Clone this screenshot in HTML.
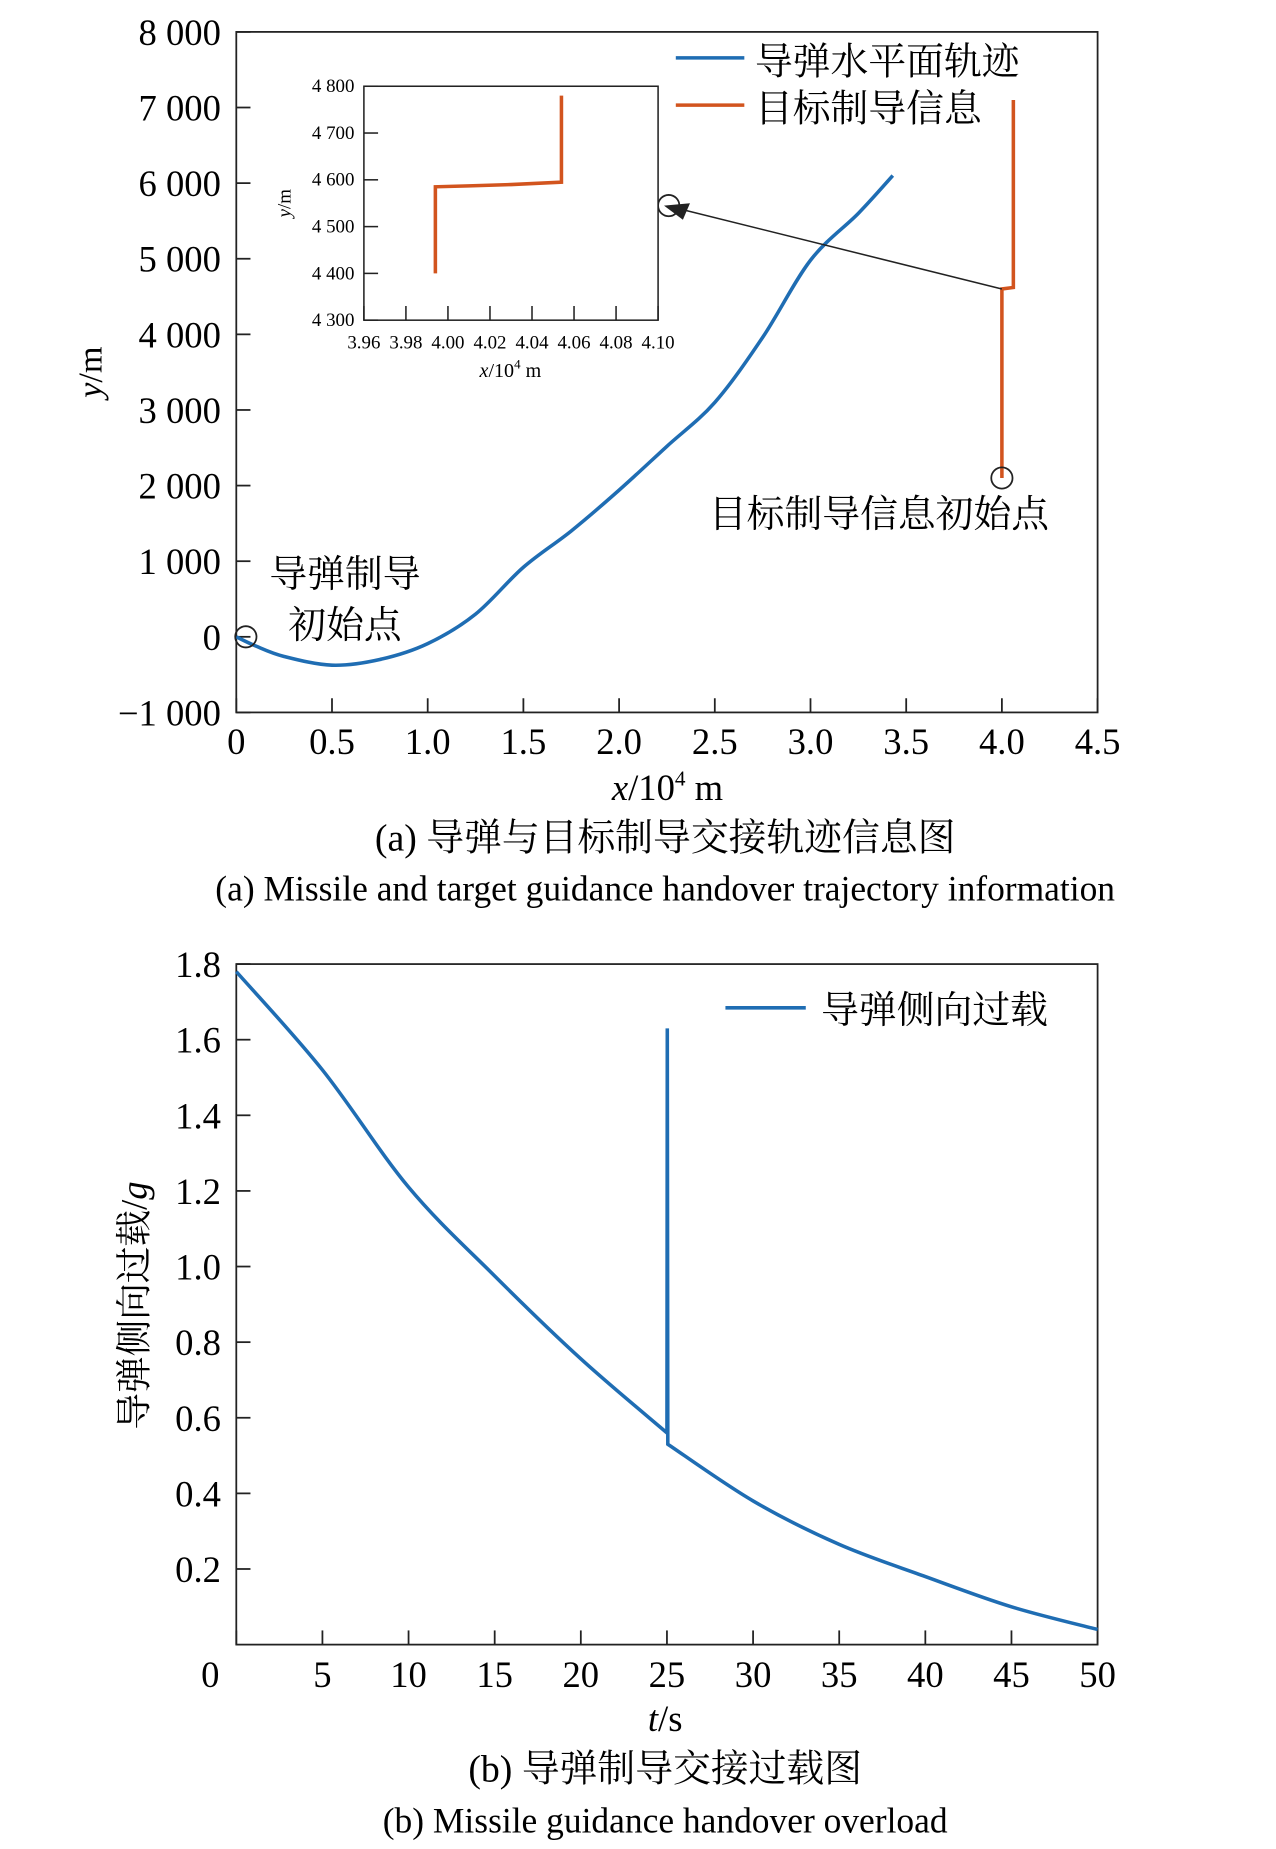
<!DOCTYPE html>
<html><head><meta charset="utf-8"><style>
html,body{margin:0;padding:0;background:#fff;}
svg{display:block;font-family:"Liberation Serif","Noto Serif CJK SC",serif;}
</style></head><body>
<svg id="c" width="1276" height="1849" viewBox="0 0 1080 1565" preserveAspectRatio="none" xmlns="http://www.w3.org/2000/svg">
<g id="top"></g>
<g id="inset"></g>
<g id="bot"></g>
<text x="563" y="720" text-anchor="middle" font-size="32">(a) 导弹与目标制导交接轨迹信息图</text>
<text x="563" y="762" text-anchor="middle" font-size="30">(a) Missile and target guidance handover trajectory information</text>
<text x="563" y="1508" text-anchor="middle" font-size="32">(b) 导弹制导交接过载图</text>
<text x="563" y="1551" text-anchor="middle" font-size="30">(b) Missile guidance handover overload</text>
</svg>
<script>
const trajX=[0,0.1,0.25,0.5,0.75,1.0,1.25,1.5,1.75,2.0,2.25,2.5,2.75,3.0,3.25,3.43];
const trajY=[0,-120,-260,-375,-300,-90,300,920,1400,1940,2520,3100,3960,4980,5600,6100];
const tgtX=[4.0,4.0,4.06,4.06];
const tgtY=[2100,4600,4620,7100];
const insX=[3.994,3.994,4.01,4.03,4.054,4.054];
const insY=[4400,4585,4587,4590,4595,4780];
const tVals=[0,5,10,15,20,25,25.02,25.05,30,35,40,45,50];
const nVals=[1.78,1.52,1.21,0.975,0.756,0.56,1.63,0.53,0.38,0.265,0.18,0.10,0.04];
const topXTicks=["0","0.5","1.0","1.5","2.0","2.5","3.0","3.5","4.0","4.5"];
const topYTicks=["−1 000","0","1 000","2 000","3 000","4 000","5 000","6 000","7 000","8 000"];
const insXTicks=["3.96","3.98","4.00","4.02","4.04","4.06","4.08","4.10"];
const insYTicks=["4 300","4 400","4 500","4 600","4 700","4 800"];
const botXTicks=["0","5","10","15","20","25","30","35","40","45","50"];
const botYTicks=["0","0.2","0.4","0.6","0.8","1.0","1.2","1.4","1.6","1.8"];
const NS="http://www.w3.org/2000/svg";
function mk(p,t,a,txt){const e=document.createElementNS(NS,t);for(const k in a)e.setAttribute(k,a[k]);if(txt!==undefined)e.textContent=txt;p.appendChild(e);return e;}
function lin(d0,d1,r0,r1){return v=>r0+(v-d0)/(d1-d0)*(r1-r0);}
function path(xs,ys,sx,sy){return xs.map((x,i)=>(i?'L':'M')+sx(x).toFixed(1)+' '+sy(ys[i]).toFixed(1)).join(' ');}
function smooth(xs,ys,sx,sy){let d='M'+sx(xs[0])+' '+sy(ys[0]);const P=xs.map((x,i)=>[sx(x),sy(ys[i])]);for(let i=0;i<P.length-1;i++){const p0=P[i-1]||P[i],p1=P[i],p2=P[i+1],p3=P[i+2]||p2;d+=` C${p1[0]+(p2[0]-p0[0])/6} ${p1[1]+(p2[1]-p0[1])/6} ${p2[0]-(p3[0]-p1[0])/6} ${p2[1]-(p3[1]-p1[1])/6} ${p2[0]} ${p2[1]}`;}return d;}
// top
const T=document.getElementById('top');
const tx=lin(0,4.5,200,929), ty=lin(-1000,8000,603,27);
let e=mk(T,'rect',{x:200,y:27,width:729,height:576,fill:'none',stroke:'#222','stroke-width':1.5});

topXTicks.forEach((l,i)=>{const x=tx(i*0.5);mk(T,'line',{x1:x,x2:x,y1:603,y2:591,stroke:'#222','stroke-width':1.5});
 e=mk(T,'text',{x:x,y:638,'text-anchor':'middle','font-size':31},l);});
topYTicks.forEach((l,i)=>{const y=ty(-1000+i*1000);mk(T,'line',{x1:200,x2:212,y1:y,y2:y,stroke:'#222','stroke-width':1.5});
 e=mk(T,'text',{x:187,y:y+11,'text-anchor':'end','font-size':31},l);});
e=mk(T,'text',{x:565,y:677,'text-anchor':'middle','font-size':31},'');e.innerHTML='<tspan font-style="italic">x</tspan>/10<tspan font-size="18" dy="-12">4</tspan><tspan dy="12"> m</tspan>';

e=mk(T,'text',{x:0,y:0,'text-anchor':'middle','font-size':29,transform:'translate(86,315) rotate(-90)'},'');e.innerHTML='<tspan font-style="italic">y</tspan>/m';

e=mk(T,'path',{d:smooth(trajX,trajY,tx,ty),fill:'none',stroke:'#1f6db3','stroke-width':3});

e=mk(T,'path',{d:path(tgtX,tgtY,tx,ty),fill:'none',stroke:'#d2541e','stroke-width':3});

e=mk(T,'circle',{cx:tx(tgtX[0]),cy:ty(tgtY[0]),r:9,fill:'none',stroke:'#222','stroke-width':1.5});
e=mk(T,'circle',{cx:tx(0.05),cy:ty(0),r:9,fill:'none',stroke:'#222','stroke-width':1.5});
e=mk(T,'circle',{cx:566,cy:174,r:9,fill:'none',stroke:'#222','stroke-width':1.5});
mk(T,'line',{x1:tx(4.0),y1:ty(4600),x2:576,y2:177,stroke:'#222','stroke-width':1.3});
mk(T,'polygon',{points:'562,174 584,172 578,186',fill:'#222'});
mk(T,'line',{x1:572,x2:630,y1:49,y2:49,stroke:'#1f6db3','stroke-width':3});
e=mk(T,'text',{x:639,y:63,'font-size':32},'导弹水平面轨迹');
mk(T,'line',{x1:572,x2:630,y1:89,y2:89,stroke:'#d2541e','stroke-width':3});
e=mk(T,'text',{x:639,y:103,'font-size':32},'目标制导信息');
e=mk(T,'text',{x:600,y:446,'font-size':32},'目标制导信息初始点');
e=mk(T,'text',{x:292,y:497,'text-anchor':'middle','font-size':32},'导弹制导');
mk(T,'text',{x:292,y:540,'text-anchor':'middle','font-size':32},'初始点');
// inset
const I=document.getElementById('inset');
const ix=lin(3.96,4.10,308,557), iy=lin(4300,4800,271,73);
mk(I,'rect',{x:308,y:73,width:249,height:198,fill:'#fff',stroke:'#222','stroke-width':1.3});
insXTicks.forEach((l,i)=>{const x=ix(3.96+i*0.02);mk(I,'line',{x1:x,x2:x,y1:271,y2:259,stroke:'#222','stroke-width':1.3});
 e=mk(I,'text',{x:x,y:295,'text-anchor':'middle','font-size':16},l);});
insYTicks.forEach((l,i)=>{const y=iy(4300+i*100);mk(I,'line',{x1:308,x2:320,y1:y,y2:y,stroke:'#222','stroke-width':1.3});
 e=mk(I,'text',{x:300,y:y+5,'text-anchor':'end','font-size':16},l);});
e=mk(I,'text',{x:432,y:319,'text-anchor':'middle','font-size':17},'');e.innerHTML='<tspan font-style="italic">x</tspan>/10<tspan font-size="11" dy="-7">4</tspan><tspan dy="7"> m</tspan>';

e=mk(I,'text',{x:0,y:0,'text-anchor':'middle','font-size':16,transform:'translate(246,172) rotate(-90)'},'');e.innerHTML='<tspan font-style="italic">y</tspan>/m';

e=mk(I,'path',{d:path(insX,insY,ix,iy),fill:'none',stroke:'#d2541e','stroke-width':3});

// bottom
const B=document.getElementById('bot');
const bx=lin(0,50,200,929), by=lin(0,1.8,1392,816);
e=mk(B,'rect',{x:200,y:816,width:729,height:576,fill:'none',stroke:'#222','stroke-width':1.5});

botXTicks.forEach((l,i)=>{const x=bx(i*5);mk(B,'line',{x1:x,x2:x,y1:1392,y2:1380,stroke:'#222','stroke-width':1.5});
 e=mk(B,'text',{x:i?x:178,y:1428,'text-anchor':'middle','font-size':31},l);});
botYTicks.forEach((l,i)=>{if(!i)return;const y=by(i*0.2);mk(B,'line',{x1:200,x2:212,y1:y,y2:y,stroke:'#222','stroke-width':1.5});
 e=mk(B,'text',{x:187,y:y+11,'text-anchor':'end','font-size':31},l);});
e=mk(B,'text',{x:563,y:1465,'text-anchor':'middle','font-size':31},'');e.innerHTML='<tspan font-style="italic">t</tspan>/s';

e=mk(B,'text',{x:0,y:0,'text-anchor':'middle','font-size':31,transform:'translate(124,1105) rotate(-90)'},'');e.innerHTML='导弹侧向过载/<tspan font-style="italic">g</tspan>';

const i1=tVals.findIndex(v=>v>25.01);
let d=smooth(tVals.slice(0,6),nVals.slice(0,6),bx,by)+' L'+bx(tVals[6])+' '+by(nVals[6])+' L'+bx(tVals[7])+' '+by(nVals[7]);
const s2=smooth(tVals.slice(7),nVals.slice(7),bx,by);d+=' '+s2.replace(/^M[^C]*/,'');
e=mk(B,'path',{d:d,fill:'none',stroke:'#1f6db3','stroke-width':3});

mk(B,'line',{x1:614,x2:682,y1:853,y2:853,stroke:'#1f6db3','stroke-width':3});
e=mk(B,'text',{x:695,y:866,'font-size':32},'导弹侧向过载');
</script>
</body></html>
